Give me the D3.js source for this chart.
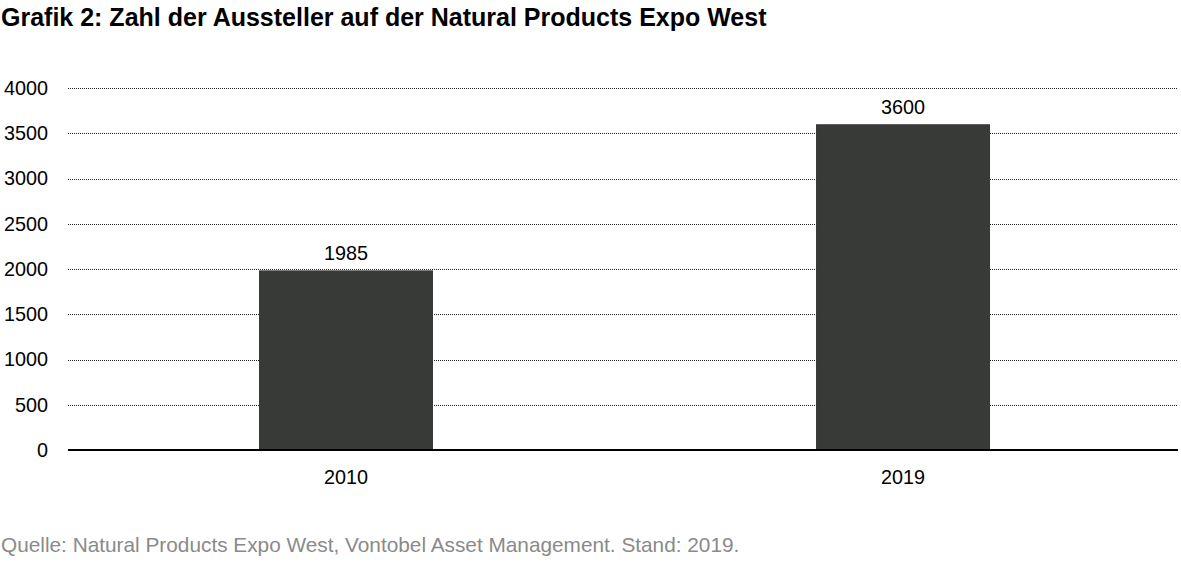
<!DOCTYPE html>
<html>
<head>
<meta charset="utf-8">
<script src="https://cdn.jsdelivr.net/npm/d3@7"></script>
<style>
  body { margin: 0; background: #fff; }
  text { font-family: Arial, "Liberation Sans", sans-serif; }
</style>
</head>
<body>
<script>
var years = ["2010", "2019"];
var exhibitors = [1985, 3600];
var yTicks = [0, 500, 1000, 1500, 2000, 2500, 3000, 3500, 4000];

var W = 1181, H = 566;
var margin = {top: 88, right: 3, bottom: 116, left: 68};
var width = W - margin.left - margin.right;
var height = H - margin.top - margin.bottom;

var svg = d3.select("body").append("svg")
  .attr("width", W)
  .attr("height", H);

svg.append("text")
  .attr("x", 1).attr("y", 26)
  .attr("font-size", 25).attr("font-weight", "bold")
  .attr("fill", "#000")
  .text("Grafik 2: Zahl der Aussteller auf der Natural Products Expo West");

svg.append("text")
  .attr("x", 1).attr("y", 552)
  .attr("font-size", 20.8)
  .attr("fill", "#8a8a8a")
  .text("Quelle: Natural Products Expo West, Vontobel Asset Management. Stand: 2019.");

var g = svg.append("g")
  .attr("transform", "translate(" + margin.left + "," + margin.top + ")");

var x = d3.scaleBand()
  .domain(years)
  .range([0, width])
  .paddingInner(0.6876)
  .paddingOuter(0.3402)
  .align(0.504);

var y = d3.scaleLinear()
  .domain([0, 4000])
  .range([height, 0]);

// dotted gridlines
g.selectAll(".grid")
  .data(yTicks.filter(function(d) { return d > 0; }))
  .enter().append("line")
    .attr("x1", 0).attr("x2", width)
    .attr("y1", function(d) { return Math.round(y(d)) + 0.5; })
    .attr("y2", function(d) { return Math.round(y(d)) + 0.5; })
    .attr("stroke", "#222")
    .attr("stroke-width", 1)
    .attr("stroke-dasharray", "1,1");

// y tick labels
g.selectAll(".ylab")
  .data(yTicks)
  .enter().append("text")
    .attr("x", -20)
    .attr("y", function(d) { return y(d); })
    .attr("dy", "0.35em")
    .attr("text-anchor", "end")
    .attr("font-size", 19.8)
    .attr("fill", "#000")
    .text(function(d) { return d; });

// bars
g.selectAll(".bar")
  .data(exhibitors)
  .enter().append("rect")
    .attr("x", function(d, i) { return x(years[i]); })
    .attr("y", function(d) { return y(d); })
    .attr("width", x.bandwidth())
    .attr("height", function(d) { return height - y(d); })
    .attr("fill", "#383a37");

// value labels
g.selectAll(".val")
  .data(exhibitors)
  .enter().append("text")
    .attr("x", function(d, i) { return x(years[i]) + x.bandwidth() / 2; })
    .attr("y", function(d) { return y(d) - 10; })
    .attr("text-anchor", "middle")
    .attr("font-size", 19.8)
    .attr("fill", "#000")
    .text(function(d) { return d; });

// baseline
g.append("line")
  .attr("x1", 0).attr("x2", width)
  .attr("y1", height).attr("y2", height)
  .attr("stroke", "#000")
  .attr("stroke-width", 2);

// category labels
g.selectAll(".xlab")
  .data(years)
  .enter().append("text")
    .attr("x", function(d) { return x(d) + x.bandwidth() / 2; })
    .attr("y", height + 34)
    .attr("text-anchor", "middle")
    .attr("font-size", 19.8)
    .attr("fill", "#000")
    .text(function(d) { return d; });
</script>
</body>
</html>
